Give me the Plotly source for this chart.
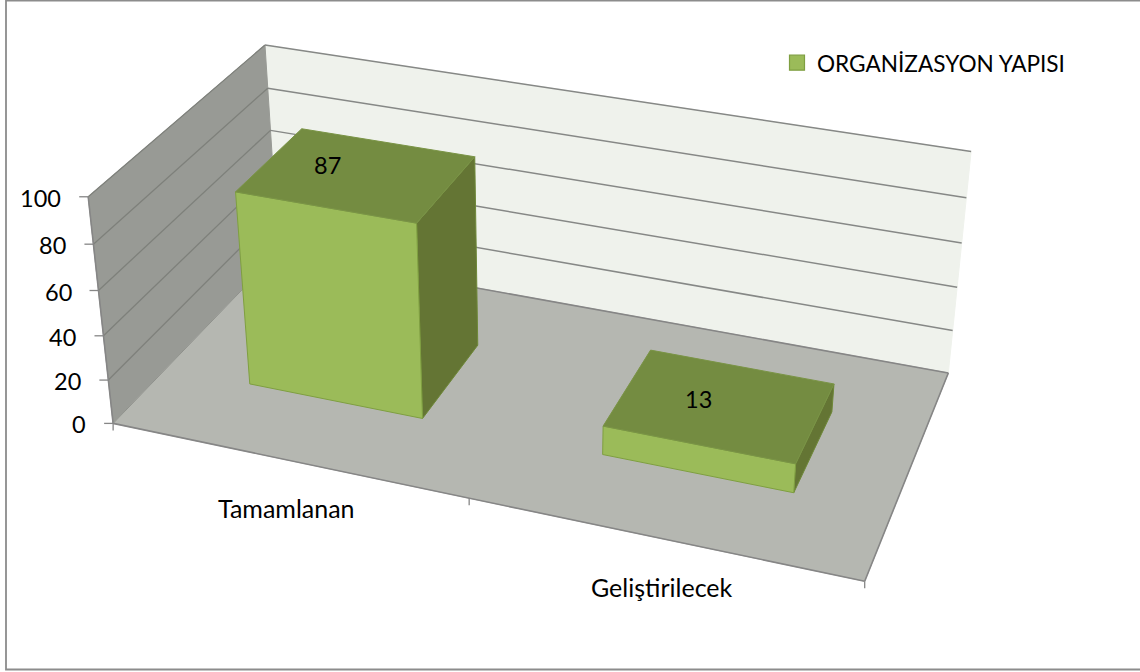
import plotly.graph_objects as go

# ---- chart data ----
CATEGORIES = ["Tamamlanan", "Geliştirilecek"]
VALUES = [87, 13]
SERIES_NAME = "ORGANİZASYON YAPISI"
Z_TICKS = [0, 20, 40, 60, 80, 100]
Z_MAX = 100

# ---- view of the 3-D box (unit cube -> page pixels) ----
CAMERA = [665.253, 202.651, -29.7568, 113.12,
          99.7745, -137.332, -237.438, 423.395,
          -0.0998385, 0.134334, -0.0549357]
BAR_HALF_WIDTH = 0.1255
BAR_DEPTH = (0.30, 0.70)
LABEL_SHIFTS = [(-29, 9), (-22, 6)]

FONT = "Lato"
GREY = "#868686"
FRONT, TOP, SIDE = "#9BBB59", "#748C41", "#647534"
EDGE_FRONT, EDGE_TOP, EDGE_SIDE = "#7F9F41", "#7A9446", "#6E8838"


def project(cat, depth, value):
    """cat in category units (0..n), depth 0..1, value in data units."""
    X, Y, Z = cat / len(CATEGORIES), depth, value / Z_MAX
    c = CAMERA
    w = c[8] * X + c[9] * Y + c[10] * Z + 1
    return ((c[0] * X + c[1] * Y + c[2] * Z + c[3]) / w,
            (c[4] * X + c[5] * Y + c[6] * Z + c[7]) / w)


def poly(points, fill, line=None, width=1.0):
    pts = [project(*p) for p in points]
    pts.append(pts[0])
    return go.Scatter(x=[p[0] for p in pts], y=[p[1] for p in pts], mode="lines",
                      fill="toself", fillcolor=fill,
                      line=dict(color=line or fill, width=width),
                      hoverinfo="skip", showlegend=False)


def lines(segments, color, width=1.3):
    xs, ys = [], []
    for a, b in segments:
        xs += [a[0], b[0], None]
        ys += [a[1], b[1], None]
    return go.Scatter(x=xs, y=ys, mode="lines", line=dict(color=color, width=width),
                      hoverinfo="skip", showlegend=False)


n = len(CATEGORIES)
fig = go.Figure()

# walls and floor
fig.add_trace(poly([(0, 1, 0), (n, 1, 0), (n, 1, Z_MAX), (0, 1, Z_MAX)], "#EFF2EC"))
fig.add_trace(poly([(0, 0, 0), (0, 1, 0), (0, 1, Z_MAX), (0, 0, Z_MAX)], "#989A95"))
fig.add_trace(poly([(0, 0, 0), (n, 0, 0), (n, 1, 0), (0, 1, 0)], "#B5B7B1"))

# gridlines
fig.add_trace(lines([(project(0, 1, z), project(n, 1, z)) for z in Z_TICKS[1:]], "#868886", 1.5))
fig.add_trace(lines([(project(0, 0, z), project(0, 1, z)) for z in Z_TICKS[1:]], "#7E807B", 1.3))

# box outline
fig.add_trace(lines([(project(0, 0, 0), project(0, 0, Z_MAX)),
                     (project(0, 0, 0), project(n, 0, 0)),
                     (project(n, 0, 0), project(n, 1, 0)),
                     (project(n, 1, 0), project(0, 1, 0))], GREY, 1.6))
fig.add_trace(lines([(project(0, 0, 0), project(0, 1, 0))], "#8F918C", 1.0))

# axis tick marks (fixed pixel length, horizontal / vertical on the page)
ticks = []
for z in Z_TICKS:
    p = project(0, 0, z)
    ticks.append(((p[0] - 9, p[1]), p))
for i in range(n + 1):
    p = project(i, 0, 0)
    ticks.append((p, (p[0], p[1] + 7)))
fig.add_trace(lines(ticks, GREY, 1.3))

# bars
for i, v in enumerate(VALUES):
    L, R = i + 0.5 - BAR_HALF_WIDTH * n, i + 0.5 + BAR_HALF_WIDTH * n
    F, B = BAR_DEPTH
    fig.add_trace(poly([(R, F, 0), (R, B, 0), (R, B, v), (R, F, v)], SIDE, EDGE_SIDE))
    fig.add_trace(poly([(L, F, 0), (R, F, 0), (R, F, v), (L, F, v)], FRONT, EDGE_FRONT))
    fig.add_trace(poly([(L, F, v), (R, F, v), (R, B, v), (L, B, v)], TOP, EDGE_TOP))

# legend entry
fig.add_trace(go.Scatter(x=[None], y=[None], mode="markers", name=SERIES_NAME,
                         marker=dict(symbol="square", size=15, color=FRONT,
                                     line=dict(color=EDGE_FRONT, width=1.2)),
                         showlegend=True))

digit_font = dict(family=FONT, size=23.5, color="#000000")
category_font = dict(family=FONT, size=25, color="#000000")
legend_font = dict(family=FONT, size=22.6, color="#000000")

annotations = []
for z in Z_TICKS:
    p = project(0, 0, z)
    annotations.append(dict(x=p[0], y=p[1], text=str(z), xanchor="right", yanchor="middle",
                            xshift=-25, yshift=-1, showarrow=False, font=digit_font))
for i, c in enumerate(CATEGORIES):
    p = project(i + 0.5, 0, 0)
    annotations.append(dict(x=p[0], y=p[1], text=c, xanchor="center", yanchor="middle",
                            xshift=0, yshift=-48, showarrow=False, font=category_font))
for i, v in enumerate(VALUES):
    p = project(i + 0.5, 0.5, v)
    dx, dy = LABEL_SHIFTS[i]
    annotations.append(dict(x=p[0], y=p[1], text=str(v), xanchor="center", yanchor="middle",
                            xshift=dx, yshift=dy, showarrow=False, font=digit_font))

fig.update_layout(
    width=1140, height=672, margin=dict(l=0, r=0, t=0, b=0),
    paper_bgcolor="white", plot_bgcolor="white",
    xaxis=dict(range=[0, 1140], visible=False, fixedrange=True, domain=[0, 1]),
    yaxis=dict(range=[672, 0], visible=False, fixedrange=True, domain=[0, 1]),
    legend=dict(x=777 / 1140, y=1 - 63 / 672, xanchor="left", yanchor="middle",
                bgcolor="rgba(0,0,0,0)", font=legend_font),
    annotations=annotations,
    shapes=[dict(type="rect", xref="x", yref="y", x0=6, y0=0.5, x1=1145, y1=669.5,
                 line=dict(color="#8C8C8C", width=1.8), layer="below")],
)

fig.write_html("out.html", config=dict(displayModeBar=False),
               post_script="document.body.style.margin='0';document.body.style.overflow='hidden';")
